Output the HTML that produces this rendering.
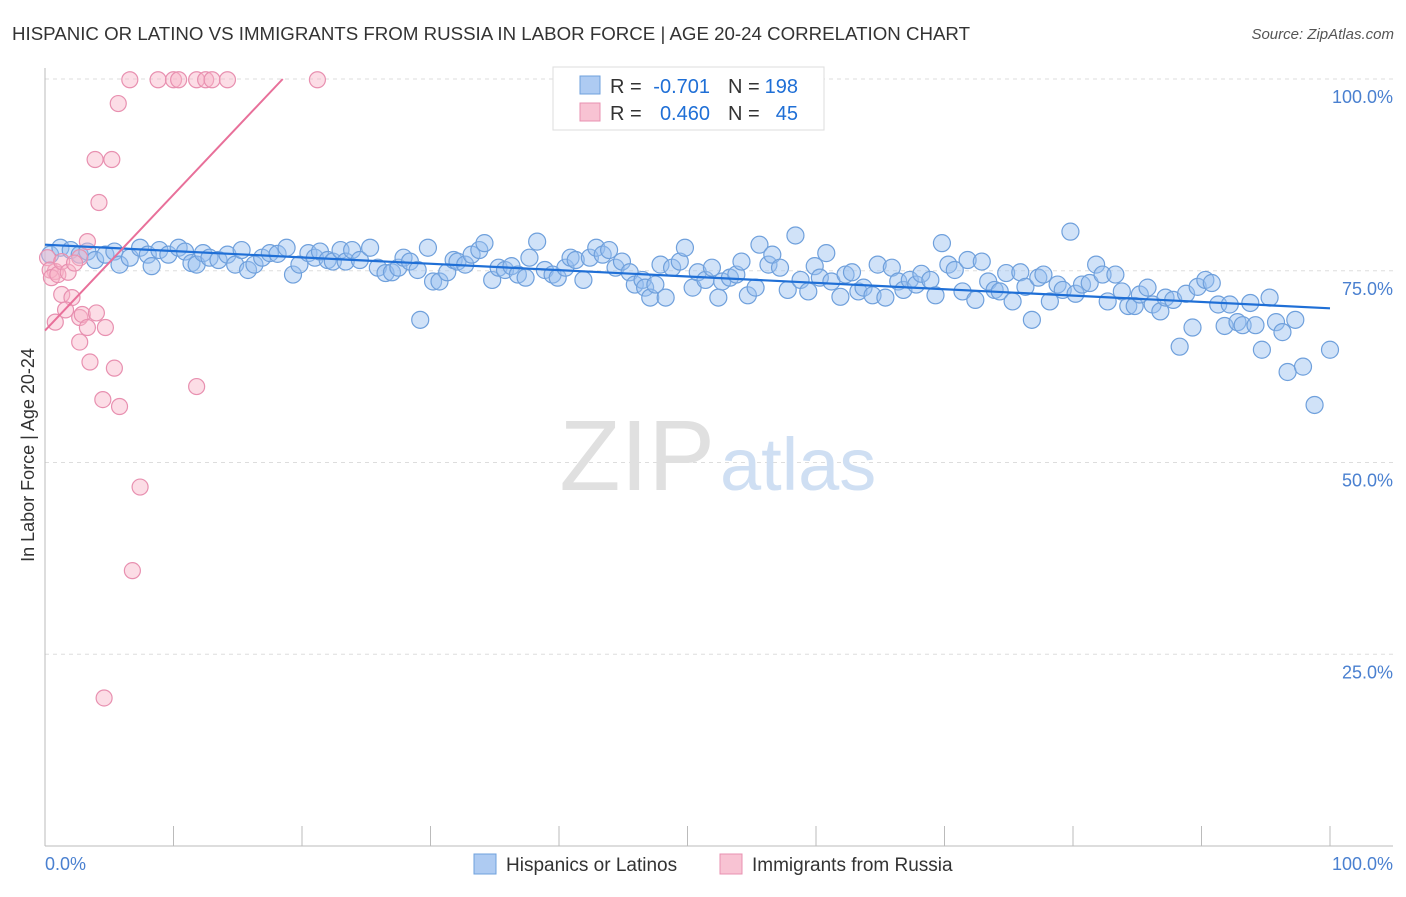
<!DOCTYPE html>
<html><head><meta charset="utf-8"><style>
body{margin:0;background:#fff;font-family:"Liberation Sans",sans-serif;}
svg text{font-family:"Liberation Sans",sans-serif;}
</style></head><body>
<svg id="chart" width="1406" height="892" xmlns="http://www.w3.org/2000/svg">
<text x="12" y="40" font-size="18" fill="#333" textLength="958" lengthAdjust="spacingAndGlyphs">HISPANIC OR LATINO VS IMMIGRANTS FROM RUSSIA IN LABOR FORCE | AGE 20-24 CORRELATION CHART</text>
<text x="1394" y="39" font-size="15" fill="#555" font-style="italic" text-anchor="end">Source: ZipAtlas.com</text>
<g id="grid"></g>
<g>
<text x="715" y="490" font-size="100" fill="#e0e0e0" text-anchor="end" font-family="Liberation Serif, serif">ZIP</text>
<text x="720" y="490" font-size="74" fill="#cfdff3">atlas</text>
</g>
<text transform="translate(34,455) rotate(-90)" font-size="18" fill="#333" text-anchor="middle">In Labor Force | Age 20-24</text>
<g id="marks"></g>
<g>
<rect x="553" y="67" width="271" height="63" fill="#fff" stroke="#ddd"/>
<rect x="580" y="76" width="20" height="18" fill="#aecbf2" stroke="#6fa0dc"/>
<text x="610" y="93" font-size="20" fill="#333">R =</text>
<text x="710" y="93" font-size="20" fill="#1f6fd6" text-anchor="end">-0.701</text>
<text x="728" y="93" font-size="20" fill="#333">N =</text>
<text x="798" y="93" font-size="20" fill="#1f6fd6" text-anchor="end">198</text>
<rect x="580" y="103" width="20" height="18" fill="#f8c3d3" stroke="#e890b0"/>
<text x="610" y="120" font-size="20" fill="#333">R =</text>
<text x="710" y="120" font-size="20" fill="#1f6fd6" text-anchor="end">0.460</text>
<text x="728" y="120" font-size="20" fill="#333">N =</text>
<text x="798" y="120" font-size="20" fill="#1f6fd6" text-anchor="end">45</text>
</g>
<g>
<rect x="474" y="854" width="22" height="20" fill="#aecbf2" stroke="#6fa0dc"/>
<text x="506" y="871" font-size="19" fill="#333">Hispanics or Latinos</text>
<rect x="720" y="854" width="22" height="20" fill="#f8c3d3" stroke="#e890b0"/>
<text x="752" y="871" font-size="19" fill="#333">Immigrants from Russia</text>
</g>
<text x="45" y="870" font-size="18" fill="#4a80d0">0.0%</text>
<text x="1393" y="870" font-size="18" fill="#4a80d0" text-anchor="end">100.0%</text>
</svg>
<script>
const yTicks=[100,75,50,25];
const yTickLabels=["100.0%","75.0%","50.0%","25.0%"];
const xTicks=[0,10,20,30,40,50,60,70,80,90,100];
const blueX=[0.4,1.2,2.0,2.7,3.3,3.9,4.7,5.4,5.8,6.6,7.4,8.0,8.3,8.9,9.6,10.4,10.9,11.4,11.8,12.3,12.8,13.5,14.2,14.8,15.3,15.8,16.3,16.9,17.5,18.1,18.8,19.3,19.8,20.5,21.0,21.4,22.0,22.4,23.0,23.4,23.9,24.5,25.3,25.9,26.5,27.0,27.5,27.9,28.4,29.0,29.2,29.8,30.2,30.7,31.3,31.8,32.1,32.7,33.2,33.8,34.2,34.8,35.3,35.8,36.3,36.8,37.4,37.7,38.3,38.9,39.5,39.9,40.5,40.9,41.3,41.9,42.4,42.9,43.4,43.9,44.4,44.9,45.5,45.9,46.5,46.7,47.1,47.5,47.9,48.3,48.8,49.4,49.8,50.4,50.8,51.4,51.9,52.4,52.7,53.3,53.8,54.2,54.7,55.3,55.6,56.3,56.6,57.2,57.8,58.4,58.8,59.4,59.9,60.3,60.8,61.2,61.9,62.3,62.8,63.3,63.7,64.4,64.8,65.4,65.9,66.4,66.8,67.3,67.8,68.2,68.9,69.3,69.8,70.3,70.8,71.4,71.8,72.4,72.9,73.4,73.9,74.3,74.8,75.3,75.9,76.3,76.8,77.3,77.7,78.2,78.8,79.2,79.8,80.2,80.7,81.3,81.8,82.3,82.7,83.3,83.8,84.3,84.8,85.2,85.8,86.2,86.8,87.2,87.8,88.3,88.8,89.3,89.7,90.3,90.8,91.3,91.8,92.2,92.8,93.2,93.8,94.2,94.7,95.3,95.8,96.3,96.7,97.3,97.9,98.8,100];
const blueY=[77.1,78,77.7,77.1,77.5,76.4,77.1,77.5,75.8,76.7,78,77.1,75.6,77.7,77.1,78,77.5,76.0,75.8,77.3,76.7,76.4,77.1,75.8,77.7,75.1,75.8,76.7,77.3,77.2,78.0,74.5,75.8,77.3,76.7,77.5,76.4,76.2,77.7,76.2,77.7,76.4,78,75.4,74.7,74.8,75.4,76.7,76.2,75.1,68.6,78,73.6,73.6,74.8,76.4,76.2,75.8,77.1,77.7,78.6,73.8,75.4,75.1,75.6,74.5,74.1,76.7,78.8,75.1,74.5,74.1,75.4,76.7,76.4,73.8,76.7,78,77.1,77.7,75.4,76.2,74.8,73.2,73.8,72.8,71.5,73.2,75.8,71.5,75.4,76.2,78,72.8,74.8,73.8,75.4,71.5,73.6,74.1,74.5,76.2,71.8,72.8,78.4,75.8,77.1,75.4,72.5,79.6,73.8,72.3,75.6,74.1,77.3,73.6,71.6,74.5,74.8,72.3,72.8,71.8,75.8,71.5,75.4,73.6,72.5,73.8,73.2,74.6,73.8,71.8,78.6,75.8,75.1,72.3,76.4,71.2,76.2,73.6,72.5,72.3,74.7,71.0,74.8,72.9,68.6,74.1,74.5,71.0,73.2,72.5,80.1,72.0,73.2,73.4,75.8,74.5,71.0,74.5,72.3,70.4,70.4,71.9,72.8,70.6,69.7,71.5,71.2,65.1,72.0,67.6,72.9,73.8,73.4,70.6,67.8,70.6,68.3,67.9,70.8,67.9,64.7,71.5,68.3,67.0,61.8,68.6,62.5,57.5,64.7];
const pinkX=[6.6,8.8,10.0,10.4,11.8,12.5,13.0,14.2,21.2,5.7,3.9,5.2,4.2,0.2,0.8,0.4,0.5,1.0,1.3,1.8,3.3,2.7,2.3,1.3,2.1,1.6,0.8,2.7,2.9,4.0,3.3,4.7,2.7,3.5,5.4,4.5,5.8,11.8,7.4,6.8,4.6];
const pinkY=[99.9,99.9,99.9,99.9,99.9,99.9,99.9,99.9,99.9,96.8,89.5,89.5,83.9,76.7,74.9,75.1,74.1,74.5,76.2,74.8,78.8,76.7,76.0,71.9,71.5,69.9,68.3,68.9,69.3,69.5,67.6,67.6,65.7,63.1,62.3,58.2,57.3,59.9,46.8,35.9,19.3];
const blueTrend=[[0,78.4],[100,70.1]];
const pinkTrend=[[0,67.2],[18.5,100]];
const X0=45,X1=1330,Y0=846,Y100=79;
const sx=v=>X0+(X1-X0)*v/100, sy=v=>Y0-(Y0-Y100)*v/100;
const NS="http://www.w3.org/2000/svg";
const grid=document.getElementById('grid'), marks=document.getElementById('marks');
function mk(tag,attrs,parent){const e=document.createElementNS(NS,tag);for(const k in attrs)e.setAttribute(k,attrs[k]);parent.appendChild(e);return e;}
yTicks.forEach((t,i)=>{
  const l=mk('line',{x1:X0,x2:1393,y1:sy(t),y2:sy(t),stroke:'#ddd','stroke-dasharray':'4,4'},grid);
  
  
  const tx=mk('text',{x:1393,y:sy(t)+24,'font-size':18,fill:'#4a80d0','text-anchor':'end'},grid);
  tx.textContent=yTickLabels[i];
  
  
});
const ax=mk('line',{x1:X0,x2:X0,y1:68,y2:Y0,stroke:'#bbb'},grid);


const bx=mk('line',{x1:X0,x2:1393,y1:Y0,y2:Y0,stroke:'#bbb'},grid);


xTicks.forEach(t=>{
  const l=mk('line',{x1:sx(t),x2:sx(t),y1:Y0,y2:Y0-20,stroke:'#bbb'},grid);
  
  
});
blueX.forEach((v,i)=>{
  const c=mk('circle',{cx:sx(v),cy:sy(blueY[i]),r:8.5,fill:'rgba(150,190,240,0.45)',stroke:'#6fa0dc','stroke-width':1.2},marks);
  
  
});
pinkX.forEach((v,i)=>{
  const c=mk('circle',{cx:sx(v),cy:sy(pinkY[i]),r:8,fill:'rgba(248,180,200,0.45)',stroke:'#e890b0','stroke-width':1.2},marks);
  
  
});
const bt=mk('line',{x1:sx(blueTrend[0][0]),y1:sy(blueTrend[0][1]),x2:sx(blueTrend[1][0]),y2:sy(blueTrend[1][1]),stroke:'#1f6fd6','stroke-width':2.2},marks);


const pt=mk('line',{x1:sx(pinkTrend[0][0]),y1:sy(pinkTrend[0][1]),x2:sx(pinkTrend[1][0]),y2:sy(pinkTrend[1][1]),stroke:'#e8709a','stroke-width':2},marks);


</script>
</body></html>
